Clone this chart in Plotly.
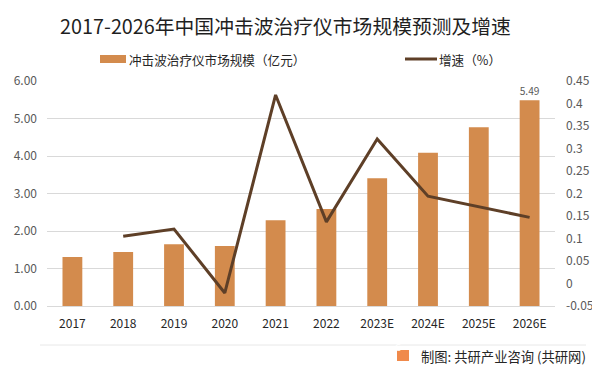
import plotly.graph_objects as go

years = ["2017", "2018", "2019", "2020", "2021", "2022", "2023E", "2024E", "2025E", "2026E"]
market_size = [1.31, 1.44, 1.65, 1.60, 2.29, 2.59, 3.41, 4.09, 4.77, 5.49]
growth_years = ["2018", "2019", "2020", "2021", "2022", "2023E", "2024E", "2025E", "2026E"]
growth = [0.105, 0.121, -0.021, 0.419, 0.137, 0.321, 0.194, 0.171, 0.147]

left_ticks = [0, 1, 2, 3, 4, 5, 6]
left_ticktext = ["0.00", "1.00", "2.00", "3.00", "4.00", "5.00", "6.00"]
right_ticks = [-0.05, 0, 0.05, 0.1, 0.15, 0.2, 0.25, 0.3, 0.35, 0.4, 0.45]
right_ticktext = ["-0.05", "0", "0.05", "0.1", "0.15", "0.2", "0.25", "0.3", "0.35", "0.4", "0.45"]

series_names = ["冲击波治疗仪市场规模（亿元）", "增速（%）"]

font = "Noto Sans CJK SC, Liberation Sans, sans-serif"
bar_color = "#D38B4D"
line_color = "#5E3F27"
tick_color = "#595959"

label_text = [""] * (len(market_size) - 1) + [f"{market_size[-1]:.2f}"]

# page has an 8px body margin; figure sized to fill the rest of the window
O = 8
W, H = 600 - O, 375 - O
L, R, T, B = 47 - O, 45, 81 - O, 69
PW, PH = W - L - R, H - T - B


def px(x):
    return (x - O - L) / PW


def py(y):
    return (H - B - (y - O)) / PH


fig = go.Figure()
fig.add_trace(go.Bar(
    x=years, y=market_size, name=series_names[0],
    marker=dict(color=bar_color, line=dict(width=0)), width=0.39,
    text=label_text, textposition="outside", cliponaxis=False,
    textfont=dict(size=12, color=tick_color, family=font),
))
fig.add_trace(go.Scatter(
    x=growth_years, y=growth, name=series_names[1], yaxis="y2",
    mode="lines", line=dict(color=line_color, width=3),
))

fig.update_layout(
    width=W, height=H,
    margin=dict(l=L, r=R, t=T, b=B, autoexpand=False),
    paper_bgcolor="white", plot_bgcolor="white",
    font=dict(family=font, size=12, color=tick_color),
    title=dict(text="2017-2026年中国冲击波治疗仪市场规模预测及增速", x=(285.5 - O) / W, xanchor="center",
               y=1 - (27 - O) / H, yanchor="middle",
               font=dict(size=19.8, color="#1F1F1F", family=font)),
    showlegend=False,
    xaxis=dict(type="category", showgrid=False, showline=True, linecolor="#D9D9D9", linewidth=1,
               ticks="", tickfont=dict(size=12, color="#262626"), ticklabelstandoff=7, fixedrange=True),
    yaxis=dict(range=[0, 6], tickvals=left_ticks, ticktext=left_ticktext, showgrid=True,
               gridcolor="#D9D9D9", gridwidth=1, zeroline=False, showline=False, ticks="",
               tickfont=dict(size=12, color=tick_color), ticklabelstandoff=9),
    yaxis2=dict(range=[-0.05, 0.45], tickvals=right_ticks, ticktext=right_ticktext, overlaying="y",
                side="right", showgrid=False, zeroline=False, showline=False, ticks="",
                tickfont=dict(size=12, color=tick_color), ticklabelstandoff=10),
)

# manual legend
fig.add_shape(type="rect", xref="paper", yref="paper", x0=px(100), x1=px(126), y0=py(63), y1=py(55),
              fillcolor=bar_color, line=dict(width=0))
fig.add_annotation(text=series_names[0], xref="paper", yref="paper", x=px(127), xanchor="left",
                   y=py(59), yanchor="middle", showarrow=False,
                   font=dict(size=12.6, color="#262626", family=font))
fig.add_shape(type="line", xref="paper", yref="paper", x0=px(405), x1=px(437), y0=py(59), y1=py(59),
              line=dict(color=line_color, width=3))
fig.add_annotation(text=series_names[1], xref="paper", yref="paper", x=px(437), xanchor="left",
                   y=py(59), yanchor="middle", showarrow=False,
                   font=dict(size=12.6, color="#262626", family=font))

# footer line and source
fig.add_shape(type="line", xref="paper", yref="paper", x0=px(40), x1=px(586),
              y0=py(345), y1=py(345), line=dict(color="#E8E8E8", width=1))
fig.add_shape(type="rect", xref="paper", yref="paper", x0=px(397), x1=px(409),
              y0=py(361), y1=py(350), fillcolor="#F08A4B", line=dict(width=0))
fig.add_annotation(text="G", xref="paper", yref="paper", x=px(403), y=py(355.5),
                   showarrow=False, font=dict(size=9, color="white", family=font))
fig.add_annotation(text="制图: 共研产业咨询 (共研网)", xref="paper", yref="paper",
                   x=px(419), xanchor="left", y=py(356), yanchor="middle",
                   showarrow=False, font=dict(size=13.3, color="#262626", family=font))

fig.write_html("out.html")
